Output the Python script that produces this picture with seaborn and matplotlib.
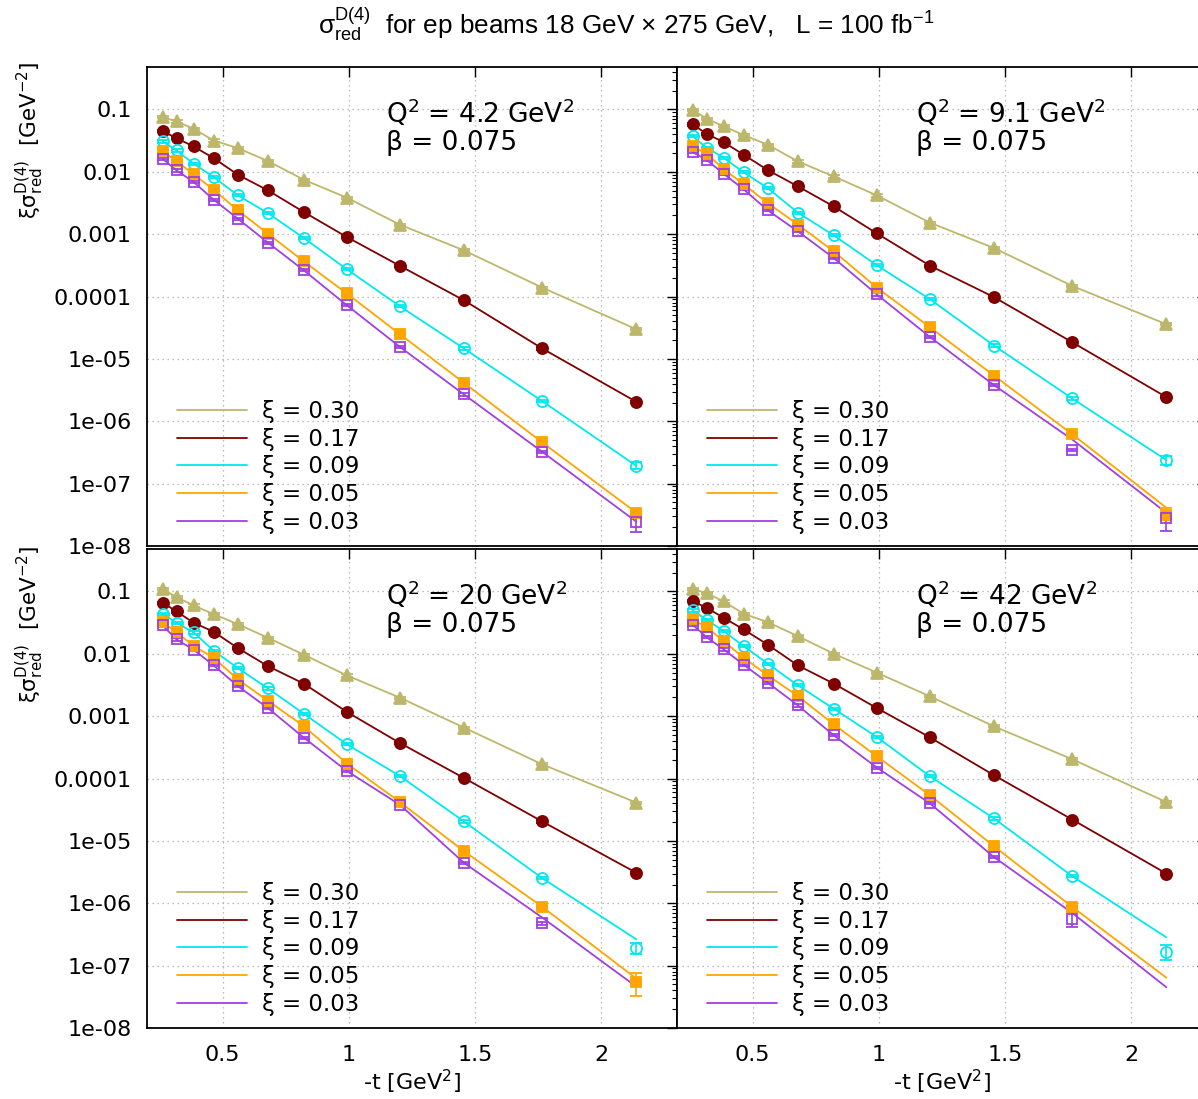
import numpy as np
import pandas as pd
import matplotlib
matplotlib.use("Agg")
import matplotlib.pyplot as plt
import seaborn as sns
from matplotlib.ticker import LogLocator, FuncFormatter, FixedLocator, NullFormatter
from matplotlib.lines import Line2D

# ---------------- data ----------------
T = [0.262, 0.317, 0.385, 0.464, 0.560, 0.679, 0.821, 0.992, 1.202, 1.456, 1.766, 2.139]
XI = ["0.30", "0.17", "0.09", "0.05", "0.03"]
Q2 = ["4.2", "9.1", "20", "42"]
BETA = "0.075"
nan = float("nan")

P1_030 = [0.0753, 0.0643, 0.0491, 0.0318, 0.0240, 0.01486, 0.00748, 0.00385, 0.00142, 0.00055, 0.000139, 2.99e-5]
P1_017 = [0.0449, 0.0347, 0.0255, 0.0166, 0.0090, 0.00505, 0.00227, 0.00090, 0.000311, 8.7e-5, 1.47e-5, 2.05e-6]
P1_009 = [0.0307, 0.0220, 0.0135, 0.00824, 0.0042, 0.00218, 0.00087, 0.000274, 6.98e-5, 1.47e-5, 2.10e-6, 1.93e-7]
P1_005 = [0.0212, 0.01486, 0.0091, 0.00518, 0.00241, 0.00102, 0.000367, 0.000112, 2.49e-5, 4.13e-6, 4.58e-7, 3.42e-8]
P1_003 = [0.0162, 0.01054, 0.00686, 0.00358, 0.00177, 0.000733, 0.000264, 7.24e-5, 1.56e-5, 2.69e-6, 3.24e-7, 2.45e-8]

P2_030 = [0.0989, 0.0710, 0.0540, 0.0387, 0.0272, 0.0147, 0.00845, 0.00419, 0.00153, 0.00060, 0.000148, 3.6e-5]
P2_017 = [0.0575, 0.0408, 0.0299, 0.0188, 0.01066, 0.00585, 0.00279, 0.00103, 0.000313, 9.8e-5, 1.85e-5, 2.44e-6]
P2_009 = [0.0373, 0.0244, 0.0168, 0.0098, 0.00548, 0.00221, 0.00096, 0.000317, 9.1e-5, 1.64e-5, 2.32e-6, 2.39e-7]
P2_005 = [0.0255, 0.0195, 0.0111, 0.0063, 0.00316, 0.00142, 0.000532, 0.000139, 3.22e-5, 5.4e-6, 6.2e-7, 3.1e-8]
P2_003 = [0.0207, 0.0156, 0.0093, 0.00524, 0.00241, 0.00111, 0.000415, 0.000108, 2.25e-5, 3.8e-6, 3.45e-7, 2.78e-8]

P3_030 = [0.110, 0.081, 0.0597, 0.0433, 0.0299, 0.0181, 0.00968, 0.00451, 0.00198, 0.000656, 0.000169, 4.12e-5]
P3_017 = [0.0659, 0.0479, 0.0315, 0.0226, 0.01236, 0.00636, 0.00333, 0.00117, 0.000372, 0.000102, 2.05e-5, 3.08e-6]
P3_009 = [0.044, 0.0315, 0.022, 0.0112, 0.0059, 0.00279, 0.0011, 0.000354, 0.00011, 2.05e-5, 2.53e-6, 1.89e-7]
P3_005 = [0.0322, 0.0223, 0.0133, 0.00867, 0.00389, 0.00177, 0.000695, 0.000174, 4.2e-5, 6.84e-6, 8.77e-7, 5.5e-8]
P3_003 = [0.0285, 0.0170, 0.01164, 0.00653, 0.00304, 0.00135, 0.000454, 0.000132, 3.8e-5, 4.45e-6, 4.75e-7, nan]

P4_030 = [0.110, 0.094, 0.0692, 0.044, 0.0322, 0.0192, 0.01005, 0.00499, 0.00208, 0.000687, 0.000204, 4.2e-5]
P4_017 = [0.070, 0.0548, 0.0379, 0.0246, 0.0140, 0.00653, 0.00333, 0.00135, 0.000458, 0.000113, 2.2e-5, 3.0e-6]
P4_009 = [0.0497, 0.0352, 0.0231, 0.0133, 0.00695, 0.00312, 0.00132, 0.000463, 0.000109, 2.29e-5, 2.72e-6, 1.67e-7]
P4_005 = [0.0356, 0.0268, 0.0160, 0.00867, 0.00451, 0.0021, 0.00074, 0.000227, 5.4e-5, 8.2e-6, 8.75e-7, nan]
P4_003 = [0.0293, 0.0185, 0.01178, 0.0067, 0.00344, 0.00149, 0.000494, 0.00015, 4.0e-5, 5.5e-6, 5.7e-7, nan]

# fitted curve values that differ from the data points: {xi: {t-index: value}}
FIT_P1 = {}
FIT_P2 = {"0.05": {11: 4.1e-8}, "0.03": {10: 5.1e-7, 11: 3.4e-8}}
FIT_P3 = {"0.09": {11: 2.64e-7}, "0.05": {11: 6.2e-8}, "0.03": {10: 5.9e-7, 11: 4.6e-8}}
FIT_P4 = {"0.09": {11: 2.84e-7}, "0.05": {11: 6.4e-8}, "0.03": {10: 7.0e-7, 11: 4.5e-8}}

# error bars (relative default, explicit low/high otherwise)
ERR_REL = 0.04
ERR_P1 = {("0.09", 11): (1.7e-7, 2.2e-7), ("0.03", 11): (1.7e-8, 3.14e-8)}
ERR_P2 = {("0.09", 11): (2.0e-7, 2.8e-7), ("0.05", 11): (2.6e-8, 4.1e-8), ("0.03", 11): (1.74e-8, 3.4e-8)}
ERR_P3 = {("0.09", 11): (1.54e-7, 2.28e-7), ("0.05", 11): (3.3e-8, 7.7e-8)}
ERR_P4 = {("0.09", 11): (1.23e-7, 2.13e-7), ("0.03", 10): (4.1e-7, 7.3e-7)}

PANELS = [
    dict(q2=Q2[0], data=[P1_030, P1_017, P1_009, P1_005, P1_003], fit=FIT_P1, err=ERR_P1),
    dict(q2=Q2[1], data=[P2_030, P2_017, P2_009, P2_005, P2_003], fit=FIT_P2, err=ERR_P2),
    dict(q2=Q2[2], data=[P3_030, P3_017, P3_009, P3_005, P3_003], fit=FIT_P3, err=ERR_P3),
    dict(q2=Q2[3], data=[P4_030, P4_017, P4_009, P4_005, P4_003], fit=FIT_P4, err=ERR_P4),
]

# ---------------- style ----------------
COLORS = ["#BDB76B", "#800000", "#00E8F0", "#FFA500", "#A040E0"]
MARKERS = [
    dict(marker="^", ms=8, mfc="#BDB76B"),
    dict(marker="o", ms=8, mfc="#800000"),
    dict(marker="o", ms=8, mfc="none"),
    dict(marker="s", ms=7.5, mfc="#FFA500"),
    dict(marker="s", ms=7.5, mfc="none"),
]

sns.set_theme(style="white")
plt.rcParams["font.family"] = ["DejaVu Sans"]
plt.rcParams["text.color"] = "black"
plt.rcParams["axes.labelcolor"] = "black"
plt.rcParams["xtick.color"] = "black"
plt.rcParams["ytick.color"] = "black"
plt.rcParams["mathtext.fontset"] = "custom"
plt.rcParams["mathtext.rm"] = "Liberation Sans"
plt.rcParams["mathtext.it"] = "Liberation Sans:italic"
plt.rcParams["mathtext.bf"] = "Liberation Sans:bold"

W_PX, H_PX = 1198, 1099
fig = plt.figure(figsize=(W_PX / 100, H_PX / 100), dpi=100)
fig.patch.set_facecolor("white")

left_l = 147 / W_PX
left_r = 677 / W_PX
aw = 530 / W_PX
ah = 479 / H_PX
bot_top = 1 - 546 / H_PX
bot_bot = 1 - 1028 / H_PX
positions = [(left_l, bot_top), (left_r, bot_top), (left_l, bot_bot), (left_r, bot_bot)]


def yfmt(v, pos):
    e = int(round(np.log10(v)))
    names = {-1: "0.1", -2: "0.01", -3: "0.001", -4: "0.0001"}
    return names.get(e, "1e-%02d" % (-e))


for i, (panel, (px, py)) in enumerate(zip(PANELS, positions)):
    ax = fig.add_axes([px, py, aw, ah])
    ax.set_facecolor("white")

    # lines (fit curves)
    rows = []
    for k, xi in enumerate(XI):
        over = panel["fit"].get(xi, {})
        for j, t in enumerate(T):
            v = over.get(j, panel["data"][k][j])
            rows.append(dict(t=t, val=v, xi=xi))
    df = pd.DataFrame(rows)
    sns.lineplot(data=df, x="t", y="val", hue="xi", hue_order=XI, palette=COLORS,
                 estimator=None, sort=True, legend=False, lw=1.3, ax=ax, zorder=2)

    # data points with error bars
    for k, xi in enumerate(XI):
        y = np.array(panel["data"][k], dtype=float)
        lo = y * ERR_REL
        hi = y * ERR_REL
        for (sx, j), (a, b) in panel["err"].items():
            if sx == xi:
                lo[j] = y[j] - a
                hi[j] = b - y[j]
        m = MARKERS[k]
        ax.errorbar(T, y, yerr=[lo, hi], fmt=m["marker"], ms=m["ms"], mfc=m["mfc"],
                    mec=COLORS[k], mew=1.3, color=COLORS[k], ecolor=COLORS[k],
                    elinewidth=1.2, capsize=4, capthick=1.2, zorder=3)

    ax.set_yscale("log")
    ax.set_ylim(1e-8, 0.48)
    ax.set_xlim(0.2, 2.3)
    ax.yaxis.set_major_locator(LogLocator(base=10, numticks=20))
    ax.yaxis.set_minor_locator(LogLocator(base=10, subs=np.arange(2, 10), numticks=20))
    ax.yaxis.set_minor_formatter(NullFormatter())
    ax.xaxis.set_major_locator(FixedLocator([0.5, 1.0, 1.5, 2.0]))
    ax.xaxis.set_major_formatter(FuncFormatter(lambda v, p: ("%g" % v)))
    ax.set_xlabel("")
    ax.set_ylabel("")
    ax.grid(True, which="major", color="#a8a8a8", linestyle=(0, (1, 3)), lw=0.9)
    ax.tick_params(which="both", direction="in", top=True, right=True, colors="black",
                   labelsize=16)
    ax.tick_params(which="major", length=7.5, width=1.0)
    ax.tick_params(which="minor", length=3.8, width=0.8)
    ax.tick_params(axis="y", pad=11)
    ax.tick_params(axis="x", pad=12)
    for s in ax.spines.values():
        s.set_color("black")
        s.set_linewidth(1.3)

    if i in (0, 2):
        ax.yaxis.set_major_formatter(FuncFormatter(yfmt))
    else:
        ax.yaxis.set_major_formatter(NullFormatter())
    if i in (0, 1):
        ax.xaxis.set_major_formatter(NullFormatter())

    ax.text(0.451, 0.904, "Q$^{2}$ = %s GeV$^{2}$" % panel["q2"], transform=ax.transAxes,
            fontsize=19, ha="left", va="center", math_fontfamily="dejavusans")
    ax.text(0.451, 0.841, "β = %s" % BETA, transform=ax.transAxes,
            fontsize=19, ha="left", va="center")

    handles = [Line2D([0], [0], color=c, lw=1.3) for c in COLORS]
    labels = ["ξ = %s" % x for x in XI]
    ax.legend(handles, labels, loc="lower left", bbox_to_anchor=(0.057, 0.026),
              frameon=False, fontsize=16.5, handlelength=3.05, handletextpad=0.65,
              labelspacing=0.2, borderpad=0, borderaxespad=0)

# axis labels
ylab = r"$\mathrm{ξσ}_{\mathrm{red}}^{\mathrm{D(4)}}$  [GeV$^{\mathrm{-2}}$]"
fig.text(30 / W_PX, 1 - 140 / H_PX, ylab, rotation=90, ha="center", va="center",
         fontsize=15.5, math_fontfamily="dejavusans")
fig.text(30 / W_PX, 1 - 624 / H_PX, ylab, rotation=90, ha="center", va="center",
         fontsize=15.5, math_fontfamily="dejavusans")
xlab = "-t [GeV$^{2}$]"
fig.text(412 / W_PX, 1 - 1082 / H_PX, xlab, ha="center", va="center", fontsize=16,
         math_fontfamily="dejavusans")
fig.text(942 / W_PX, 1 - 1082 / H_PX, xlab, ha="center", va="center", fontsize=16,
         math_fontfamily="dejavusans")

title = (r"$\mathrm{σ}_{\mathrm{red}}^{\mathrm{D(4)}}$  for ep beams 18 GeV × 275 GeV,   "
         r"L = 100 fb$^{\mathrm{-1}}$")
fig.text(626.5 / W_PX, 1 - 24 / H_PX, title, ha="center", va="center", fontsize=18.8,
         family=["Liberation Sans", "DejaVu Sans"], math_fontfamily="custom")

fig.savefig("out.png", dpi=100, facecolor="white")
